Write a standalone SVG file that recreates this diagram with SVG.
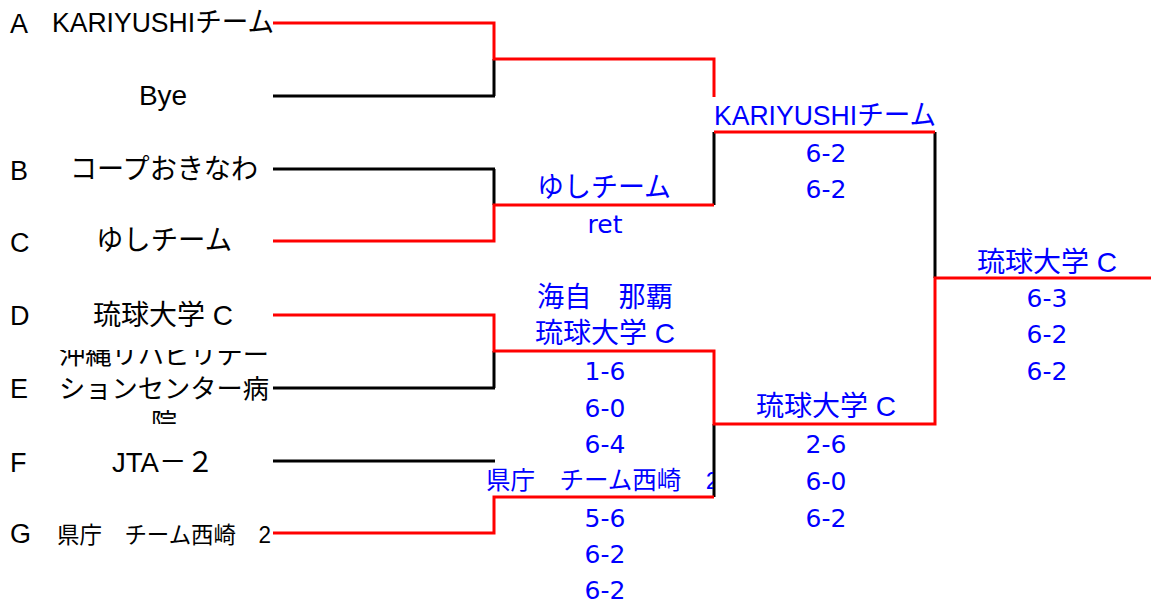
<svg xmlns="http://www.w3.org/2000/svg" width="1151" height="605" viewBox="0 0 1151 605">
<style>
.t{font-family:"Liberation Sans","Noto Sans CJK JP",sans-serif;font-size:28px;fill:#000}
.l{font-family:"Liberation Sans","Noto Sans CJK JP",sans-serif;font-size:27px;fill:#000}
.m{text-anchor:middle}
.b{font-family:"Liberation Sans","Noto Sans CJK JP",sans-serif;font-size:28px;fill:#0000ff;text-anchor:middle}
.s{font-family:"DejaVu Sans","Liberation Sans",sans-serif;font-size:25px;fill:#0000ff;text-anchor:middle}
.k{fill:none;stroke:#000;stroke-width:3}
.r{fill:none;stroke:#ff0000;stroke-width:3}
</style>
<defs>
<clipPath id="ce"><rect x="40" y="350" width="250" height="74"/></clipPath>
<clipPath id="cg"><rect x="480" y="455" width="233" height="40"/></clipPath>
</defs>
<rect width="1151" height="605" fill="#fff"/>
<g id="connectors">
<path class="k" d="M273,96 H495 M494,59 V96 M273,169 H495 M494,169 V205 M273,388 H495 M494,351 V388 M273,461 H495 M714,132 V205 M714,424 V497 M935,132 V278"/>
<path class="r" d="M273,23 H494 V59 H714 V97 M273,241 H494 V205 H714 M273,315 H494 V351 H714 V424 H935 V278 H1151 M273,533 H494 V497 H714 M714,132 H935"/>
</g>
<g id="entryA"><text class="l" x="10" y="33">A</text><text class="t m" x="163" y="32" textLength="222" lengthAdjust="spacingAndGlyphs">KARIYUSHIチーム</text></g>
<g id="bye"><text class="t m" x="163" y="105">Bye</text></g>
<g id="entryB"><text class="l" x="10" y="180">B</text><text class="t m" x="164" y="179" textLength="188" lengthAdjust="spacingAndGlyphs">コープおきなわ</text></g>
<g id="entryC"><text class="l" x="10" y="252">C</text><text class="t m" x="164" y="250" textLength="136" lengthAdjust="spacingAndGlyphs">ゆしチーム</text></g>
<g id="entryD"><text class="l" x="10" y="325">D</text><text class="t m" x="163" y="325">琉球大学 C</text></g>
<g id="entryE"><text class="l" x="10" y="398">E</text>
<g clip-path="url(#ce)"><text class="t m" x="164" y="364" style="font-size:26px" textLength="210" lengthAdjust="spacingAndGlyphs">沖縄リハビリテー</text><text class="t m" x="164" y="398" style="font-size:26px" textLength="210" lengthAdjust="spacingAndGlyphs">ションセンター病</text><text class="t m" x="164" y="432" style="font-size:26px">院</text></g></g>
<g id="entryF"><text class="l" x="10" y="472">F</text><text class="t m" x="163" y="472" textLength="102" lengthAdjust="spacingAndGlyphs">JTA－２</text></g>
<g id="entryG"><text class="l" x="10" y="543">G</text><text class="t m" x="164" y="543" style="font-size:23px" textLength="214" lengthAdjust="spacingAndGlyphs">県庁　チーム西崎　2</text></g>
<g id="r1m2"><text class="b" x="604" y="197" textLength="134" lengthAdjust="spacingAndGlyphs">ゆしチーム</text><text class="s" x="605" y="233">ret</text></g>
<g id="r1m3"><text class="b" x="605" y="307" textLength="136" lengthAdjust="spacingAndGlyphs">海自　那覇</text><text class="b" x="605" y="343">琉球大学 C</text><text class="s" x="605" y="380">1-6</text><text class="s" x="605" y="417">6-0</text><text class="s" x="605" y="453">6-4</text></g>
<g id="r1m4"><g clip-path="url(#cg)"><text class="b" x="486" y="489" style="text-anchor:start;font-size:24.5px">県庁　チーム西崎　2</text></g><text class="s" x="605" y="527">5-6</text><text class="s" x="605" y="563">6-2</text><text class="s" x="605" y="599">6-2</text></g>
<g id="r2m1"><text class="b" x="825" y="125" textLength="222" lengthAdjust="spacingAndGlyphs">KARIYUSHIチーム</text><text class="s" x="826" y="162">6-2</text><text class="s" x="826" y="198">6-2</text></g>
<g id="r2m2"><text class="b" x="826" y="416">琉球大学 C</text><text class="s" x="826" y="453">2-6</text><text class="s" x="826" y="490">6-0</text><text class="s" x="826" y="527">6-2</text></g>
<g id="final"><text class="b" x="1047" y="272">琉球大学 C</text><text class="s" x="1047" y="307">6-3</text><text class="s" x="1047" y="343">6-2</text><text class="s" x="1047" y="380">6-2</text></g>
</svg>
